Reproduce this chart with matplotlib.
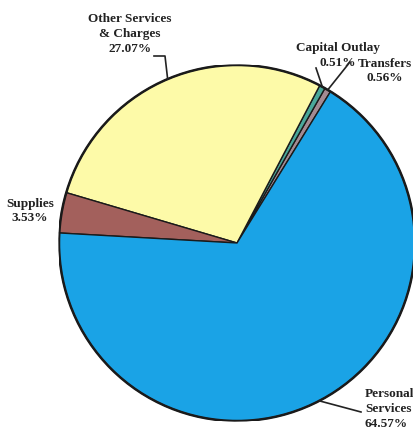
import numpy as np
import matplotlib.pyplot as plt

# Werte aus dem Diagramm (Prozent); Reihenfolge gegen den Uhrzeigersinn
categories = ["Transfers", "Capital Outlay", "Other Services\n& Charges", "Supplies", "Personal\nServices"]
values = [0.56, 0.51, 27.07, 3.53, 64.57]
labels = ["0.56%", "0.51%", "27.07%", "3.53%", "64.57%"]
colors = ["#a48a92", "#4aa89a", "#fdfaa8", "#a3605c", "#1aa3e6"]

W, H = 414, 430
cx, cy, R = 237, 243, 178


def px(x, y):
    # Pixel -> Datenkoordinaten (Kreisradius = 1)
    return (x - cx) / R, (cy - y) / R


fig = plt.figure(figsize=(W / 100, H / 100), dpi=100)
ax = fig.add_axes([(cx - R) / W, (H - cy - R) / H, 2 * R / W, 2 * R / H])
wedges, _ = ax.pie(values, colors=colors, startangle=58.3, counterclock=True,
                   wedgeprops=dict(edgecolor="#1a1a1a", linewidth=1.0))
ax.add_patch(plt.Circle((0, 0), 1, fill=False, edgecolor="#1a1a1a", linewidth=1.8))
ax.set_xlim(-1, 1)
ax.set_ylim(-1, 1)
ax.set_aspect("equal")
ax.axis("off")

font = dict(family="Liberation Serif", fontweight="bold", fontsize=9.5, color="#222222")
ls = 1.3


def edge(i):
    w = wedges[i]
    a = np.deg2rad((w.theta1 + w.theta2) / 2)
    return np.cos(a), np.sin(a)


def leader(pts, i):
    xs = [px(*p)[0] for p in pts] + [edge(i)[0]]
    ys = [px(*p)[1] for p in pts] + [edge(i)[1]]
    ax.plot(xs, ys, color="#222222", lw=1.2, clip_on=False)


# Beschriftungen
ax.text(*px(130, 34), categories[2] + "\n" + labels[2], ha="center", va="center",
        linespacing=ls, **font)
leader([(154, 56), (165, 56)], 2)

ax.text(*px(338, 48), categories[1], ha="center", va="center", **font)
ax.text(*px(320, 63), labels[1], ha="left", va="center", **font)
leader([(316, 68)], 1)

ax.text(*px(385, 71), categories[0] + "\n" + labels[0], ha="center", va="center",
        linespacing=ls, **font)
leader([(350, 62)], 0)

ax.text(*px(30, 211), categories[3] + "\n" + labels[3], ha="center", va="center",
        linespacing=ls, **font)

ax.text(*px(365, 409), categories[4] + "\n" + labels[4], ha="left", va="center",
        linespacing=ls, **font)
leader([(361, 412)], 4)

fig.savefig("out.png", dpi=100)
